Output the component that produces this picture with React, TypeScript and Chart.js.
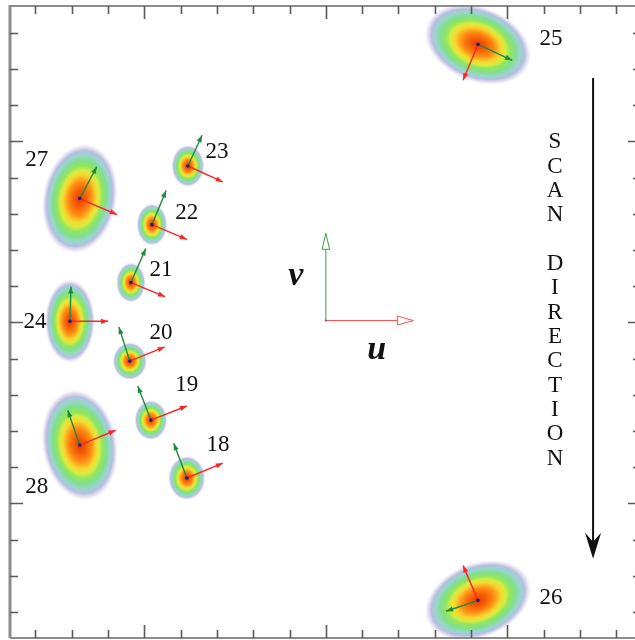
import React, { useEffect, useRef } from "react";
import { Chart, registerables } from "chart.js";
Chart.register(...registerables);

// ---- data (axis units: one minor tick = 1) ----
const ids = ["18", "19", "20", "21", "22", "23", "24", "25", "26", "27", "28"];
const centerX = [-3.83, -4.82, -5.4, -5.37, -4.79, -3.8, -7.05, 4.19, 4.19, -6.78, -6.78];
const centerY = [-4.3, -2.7, -1.07, 1.1, 2.7, 4.32, 0.03, 7.68, -7.68, 3.42, -3.39];
const spreadX = [0.52, 0.46, 0.48, 0.41, 0.43, 0.46, 0.7, 1.55, 1.55, 1.04, 1.05];
const spreadY = [0.62, 0.56, 0.53, 0.56, 0.59, 0.59, 1.17, 1.05, 1.05, 1.55, 1.57];
const tiltDeg = [0, 0, 0, 0, 0, 0, 0, 22, -22, 10, -10];
const uDX = [0.99, 0.99, 0.96, 0.94, 0.96, 0.96, 1.05, -0.41, -0.41, 1.02, 0.99];
const uDY = [0.41, 0.39, 0.39, -0.39, -0.41, -0.44, 0, -0.99, 0.96, -0.44, 0.41];
const vDX = [-0.36, -0.36, -0.3, 0.41, 0.39, 0.39, 0.03, 0.94, -0.88, 0.47, -0.33];
const vDY = [0.96, 0.94, 0.94, 0.94, 0.94, 0.85, 0.96, -0.44, -0.3, 0.88, 0.96];
const labelX = [-2.97, -3.83, -4.54, -4.54, -3.83, -3.0, -8.01, 6.2, 6.2, -7.96, -7.96];
const labelY = [-3.39, -1.74, -0.3, 1.46, 3.03, 4.71, 0, 7.82, -7.6, 4.49, -4.54];

const xTicks = [-8, -7, -6, -5, -4, -3, -2, -1, 0, 1, 2, 3, 4, 5, 6, 7, 8];
const yTicks = [-8, -7, -6, -5, -4, -3, -2, -1, 0, 1, 2, 3, 4, 5, 6, 7, 8];

const refOrigin = [0, 0.05];
const refLen = 2.41;
const uLabel = "u";
const vLabel = "v";
const scanText = "SCAN DIRECTION";
const scanX = 6.31;
const scanTop = 5.0;
const scanStep = 0.672;
const scanArrowX = 7.36;
const scanArrowFrom = 6.75;
const scanArrowTo = -6.53;

const X_MIN = -8.7, X_MAX = 8.68, Y_MIN = -8.72, Y_MAX = 8.74;

function arrowHead(ctx: CanvasRenderingContext2D, x1: number, y1: number, x2: number, y2: number, len: number, half: number, fill: boolean) {
  const a = Math.atan2(y2 - y1, x2 - x1);
  const bx = x2 - len * Math.cos(a), by = y2 - len * Math.sin(a);
  const nx = -Math.sin(a), ny = Math.cos(a);
  ctx.beginPath();
  ctx.moveTo(x2, y2);
  ctx.lineTo(bx + nx * half, by + ny * half);
  ctx.lineTo(bx - nx * half, by - ny * half);
  ctx.closePath();
  if (fill) ctx.fill(); else ctx.stroke();
}

const blobPlugin = {
  id: "blobs",
  beforeDatasetsDraw(chart: any) {
    const ctx: CanvasRenderingContext2D = chart.ctx;
    const xs = chart.scales.x, ys = chart.scales.y;
    const ppuX = Math.abs(xs.getPixelForValue(1) - xs.getPixelForValue(0));
    const ppuY = Math.abs(ys.getPixelForValue(1) - ys.getPixelForValue(0));
    ctx.save();
    ctx.beginPath();
    ctx.rect(chart.chartArea.left, chart.chartArea.top, chart.chartArea.right - chart.chartArea.left, chart.chartArea.bottom - chart.chartArea.top);
    ctx.clip();
    for (let i = 0; i < ids.length; i++) {
      const px = xs.getPixelForValue(centerX[i]);
      const py = ys.getPixelForValue(centerY[i]);
      ctx.save();
      ctx.translate(px, py);
      ctx.rotate((tiltDeg[i] * Math.PI) / 180);
      ctx.scale(spreadX[i] * ppuX, spreadY[i] * ppuY);
      const g = ctx.createRadialGradient(0, 0, 0, 0, 0, 1);
      g.addColorStop(0, "#ea3c00");
      g.addColorStop(0.14, "#f45a04");
      g.addColorStop(0.3, "#ff8e14");
      g.addColorStop(0.43, "#f6d830");
      g.addColorStop(0.51, "#d8ec40");
      g.addColorStop(0.59, "#92e65e");
      g.addColorStop(0.69, "#82de8e");
      g.addColorStop(0.78, "#98d6cc");
      g.addColorStop(0.86, "#b6bee0");
      g.addColorStop(0.93, "rgba(205,196,228,0.45)");
      g.addColorStop(1, "rgba(255,255,255,0)");
      ctx.fillStyle = g;
      ctx.beginPath();
      ctx.arc(0, 0, 1, 0, Math.PI * 2);
      ctx.fill();
      ctx.restore();
    }
    // vectors
    ctx.lineWidth = 1.4;
    for (let i = 0; i < ids.length; i++) {
      const px = xs.getPixelForValue(centerX[i]);
      const py = ys.getPixelForValue(centerY[i]);
      const vecs: [number, number, string][] = [
        [uDX[i], uDY[i], "#ff2424"],
        [vDX[i], vDY[i], "#1f8a3c"],
      ];
      for (const [dx, dy, col] of vecs) {
        const tx = xs.getPixelForValue(centerX[i] + dx);
        const ty = ys.getPixelForValue(centerY[i] + dy);
        ctx.strokeStyle = col;
        ctx.fillStyle = col;
        ctx.beginPath();
        ctx.moveTo(px, py);
        ctx.lineTo(tx, ty);
        ctx.stroke();
        arrowHead(ctx, px, py, tx, ty, 7, 2.6, true);
      }
    }
    ctx.restore();
  },
  afterDatasetsDraw(chart: any) {
    const ctx: CanvasRenderingContext2D = chart.ctx;
    const xs = chart.scales.x, ys = chart.scales.y;
    const { left, right, top, bottom } = chart.chartArea;
    ctx.save();
    // labels
    ctx.fillStyle = "#111";
    ctx.font = "23px 'Liberation Serif'";
    ctx.textAlign = "center";
    ctx.textBaseline = "middle";
    for (let i = 0; i < ids.length; i++) {
      ctx.fillText(ids[i], xs.getPixelForValue(labelX[i]), ys.getPixelForValue(labelY[i]));
    }
    // reference u/v axes
    const ox = xs.getPixelForValue(refOrigin[0]);
    const oy = ys.getPixelForValue(refOrigin[1]);
    const ux = xs.getPixelForValue(refOrigin[0] + refLen);
    const vy = ys.getPixelForValue(refOrigin[1] + refLen);
    ctx.lineWidth = 1;
    ctx.strokeStyle = "#ff4a4a";
    ctx.beginPath();
    ctx.moveTo(ox, oy);
    ctx.lineTo(ux - 16, oy);
    ctx.stroke();
    arrowHead(ctx, ox, oy, ux, oy, 16, 4.5, false);
    ctx.strokeStyle = "#3c9c46";
    ctx.beginPath();
    ctx.moveTo(ox, oy);
    ctx.lineTo(ox, vy + 16);
    ctx.stroke();
    arrowHead(ctx, ox, oy, ox, vy, 16, 3.8, false);
    ctx.fillStyle = "#6060c0";
    ctx.fillRect(ox - 1, oy - 1, 2, 2);
    ctx.fillStyle = "#111";
    ctx.font = "bold italic 34px 'Liberation Serif'";
    ctx.fillText(vLabel, xs.getPixelForValue(-0.83), ys.getPixelForValue(1.27));
    ctx.fillText(uLabel, xs.getPixelForValue(1.4), ys.getPixelForValue(-0.76));
    // scan direction text
    ctx.font = "23px 'Liberation Serif'";
    const sx = xs.getPixelForValue(scanX);
    for (let k = 0; k < scanText.length; k++) {
      const ch = scanText[k];
      if (ch === " ") continue;
      ctx.fillText(ch, sx, ys.getPixelForValue(scanTop - k * scanStep) + 1);
    }
    // scan arrow
    const ax = xs.getPixelForValue(scanArrowX);
    const ay1 = ys.getPixelForValue(scanArrowFrom);
    const ay2 = ys.getPixelForValue(scanArrowTo);
    ctx.strokeStyle = "#111";
    ctx.lineWidth = 2;
    ctx.beginPath();
    ctx.moveTo(ax, ay1);
    ctx.lineTo(ax, ay2 - 10);
    ctx.stroke();
    ctx.fillStyle = "#111";
    ctx.beginPath();
    ctx.moveTo(ax, ay2);
    ctx.lineTo(ax - 8, ay2 - 26);
    ctx.lineTo(ax, ay2 - 17);
    ctx.lineTo(ax + 8, ay2 - 26);
    ctx.closePath();
    ctx.fill();
    // frame (left, top, bottom; right edge lies beyond the picture)
    ctx.strokeStyle = "#8c8c8c";
    ctx.lineWidth = 2;
    ctx.beginPath();
    ctx.moveTo(left, top);
    ctx.lineTo(right, top);
    ctx.moveTo(left, bottom);
    ctx.lineTo(right, bottom);
    ctx.stroke();
    ctx.lineWidth = 3;
    ctx.beginPath();
    ctx.moveTo(left, top - 1);
    ctx.lineTo(left, bottom);
    ctx.stroke();
    // ticks
    ctx.strokeStyle = "#5a5a5a";
    ctx.lineWidth = 1.6;
    ctx.beginPath();
    for (const t of xTicks) {
      const p = Math.round(xs.getPixelForValue(t)) + 0.5;
      const L = t % 5 === 0 ? 13 : 8;
      ctx.moveTo(p, top);
      ctx.lineTo(p, top + L);
      ctx.moveTo(p, bottom);
      ctx.lineTo(p, bottom - L);
    }
    for (const t of yTicks) {
      const p = Math.round(ys.getPixelForValue(t)) + 0.5;
      const L = t % 5 === 0 ? 13 : 8;
      ctx.moveTo(left, p);
      ctx.lineTo(left + L, p);
      ctx.moveTo(right, p);
      ctx.lineTo(right - L, p);
    }
    ctx.stroke();
    ctx.restore();
  },
};

export default function App() {
  const ref = useRef<HTMLCanvasElement | null>(null);
  useEffect(() => {
    if (!ref.current) return;
    const chart = new Chart(ref.current, {
      type: "scatter",
      data: {
        datasets: [
          {
            data: centerX.map((x, i) => ({ x, y: centerY[i] })),
            pointRadius: 1.8,
            pointBackgroundColor: "#1c1c8c",
            pointBorderWidth: 0,
            showLine: false,
          },
        ],
      },
      options: {
        responsive: false,
        animation: false,
        events: [],
        layout: { padding: { left: 10, top: 6, right: 4, bottom: 2 } },
        plugins: { legend: { display: false }, tooltip: { enabled: false } },
        scales: {
          x: { type: "linear", min: X_MIN, max: X_MAX, display: false },
          y: { type: "linear", min: Y_MIN, max: Y_MAX, display: false },
        },
      },
      plugins: [blobPlugin],
    });
    return () => chart.destroy();
  }, []);
  return (
    <div style={{ position: "fixed", left: 0, top: 0, width: 635, height: 640, overflow: "hidden", background: "#fff" }}>
      <canvas ref={ref} width={645} height={642} style={{ display: "block" }} />
    </div>
  );
}
